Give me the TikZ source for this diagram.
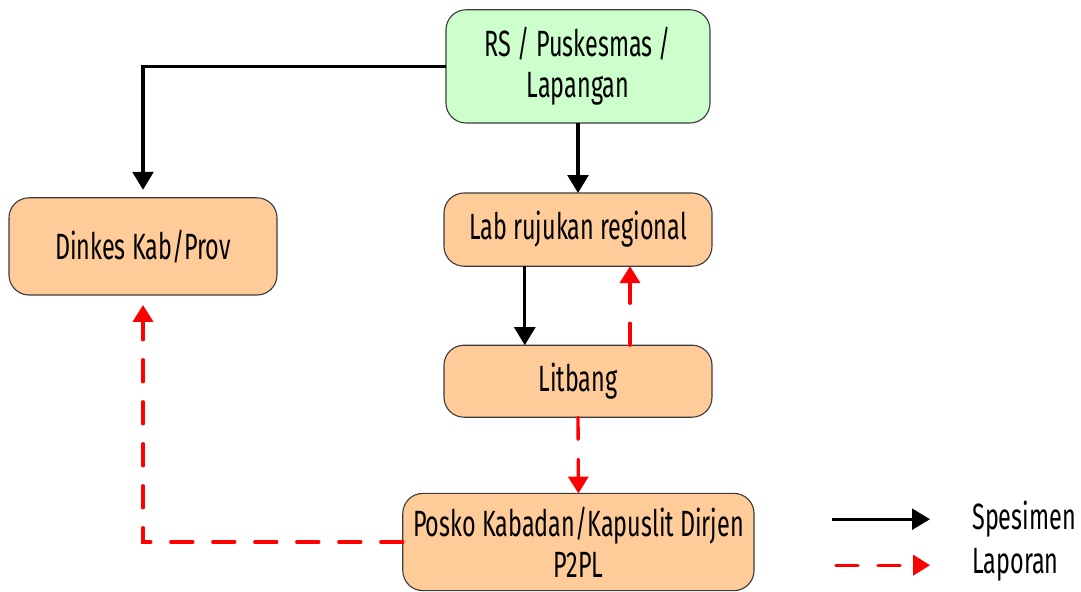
\documentclass[tikz,border=0pt]{standalone}
\usepackage{fontspec}
\setmainfont{Fira Sans}[FakeStretch=0.64]
\usepackage[usenames,x11names]{xcolor}
\definecolor{mintbox}{RGB}{204,255,204}
\definecolor{peachbox}{RGB}{255,204,153}
\definecolor{boxline}{RGB}{60,60,60}
\usepackage{tikz}
\usetikzlibrary{positioning,arrows.meta}

\begin{document}
\begin{tikzpicture}[every node/.style={font=\fontsize{26}{29}\selectfont}]
    \tikzstyle{kotak}=[ %
      draw=boxline, rectangle, rounded corners=0.5cm,
      line width=0.8pt, align=center,
      fill=peachbox,
      outer sep=0, inner sep=0
    ]
    \tikzstyle{spesimen}=[ %
      line width=2.3pt, -{Triangle[width=0.52cm,length=0.45cm]}
    ]
    \tikzstyle{laporan}=[ %
      red, line width=2.4pt, line cap=round,
      dash pattern=on 0.55cm off 0.5cm,
      -{Triangle[width=0.5cm,length=0.42cm,line cap=butt]}
    ]
  %  \draw[help lines] (0,0) grid (27,-15);
    \useasboundingbox (0,0) rectangle (27.025,-14.775);
    \path (14.45,-1.66) node(rs) [kotak,fill=mintbox,minimum width=6.6cm,minimum height=2.83cm]
                {RS / Puskesmas /\\ Lapangan}
          (3.575,-6.16) node(dinkes) [kotak,minimum width=6.7cm,minimum height=2.43cm]
                {Dinkes Kab/Prov}
          (14.45,-5.74) node(lab) [kotak,minimum width=6.7cm,minimum height=1.83cm]
                {Lab rujukan regional}
          (14.45,-9.53) node(litbang) [kotak,minimum width=6.7cm,minimum height=1.8cm]
                {Litbang}
          (14.46,-13.55) node(posko) [kotak,minimum width=8.78cm,minimum height=2.43cm]
                {Posko Kabadan/Kapuslit Dirjen\\ P2PL};
  % alur spesimen
    \draw[spesimen] (rs.west) -| ([yshift=0.2cm]dinkes.north);
    \draw[spesimen] (rs.south) -- (lab.north);
    \draw[spesimen] ([xshift=-1.33cm]lab.south) -- ([xshift=-1.33cm]litbang.north);
  % alur laporan
    \draw[laporan] ([xshift=1.3cm]litbang.north) -- ([xshift=1.3cm]lab.south);
    \draw[laporan] (litbang.south) -- (posko.north);
    \draw[laporan] (posko.west) -| ([yshift=-0.25cm]dinkes.south);
  % legenda
    \coordinate (s1) at (20.8,-12.98);
    \coordinate (s2) at (23.25,-12.98);
    \coordinate (l1) at (20.9,-14.13);
    \coordinate (l2) at (23.25,-14.13);
    \draw[spesimen] (s1) -- (s2);
    \draw[laporan] (l1) -- (l2);
    \path (24.3,-12.98) node(ketS) [anchor=west,inner sep=0] {Spesimen}
          (24.3,-14.13) node(ketL) [anchor=west,inner sep=0] {Laporan};
  \end{tikzpicture}
\end{document}
